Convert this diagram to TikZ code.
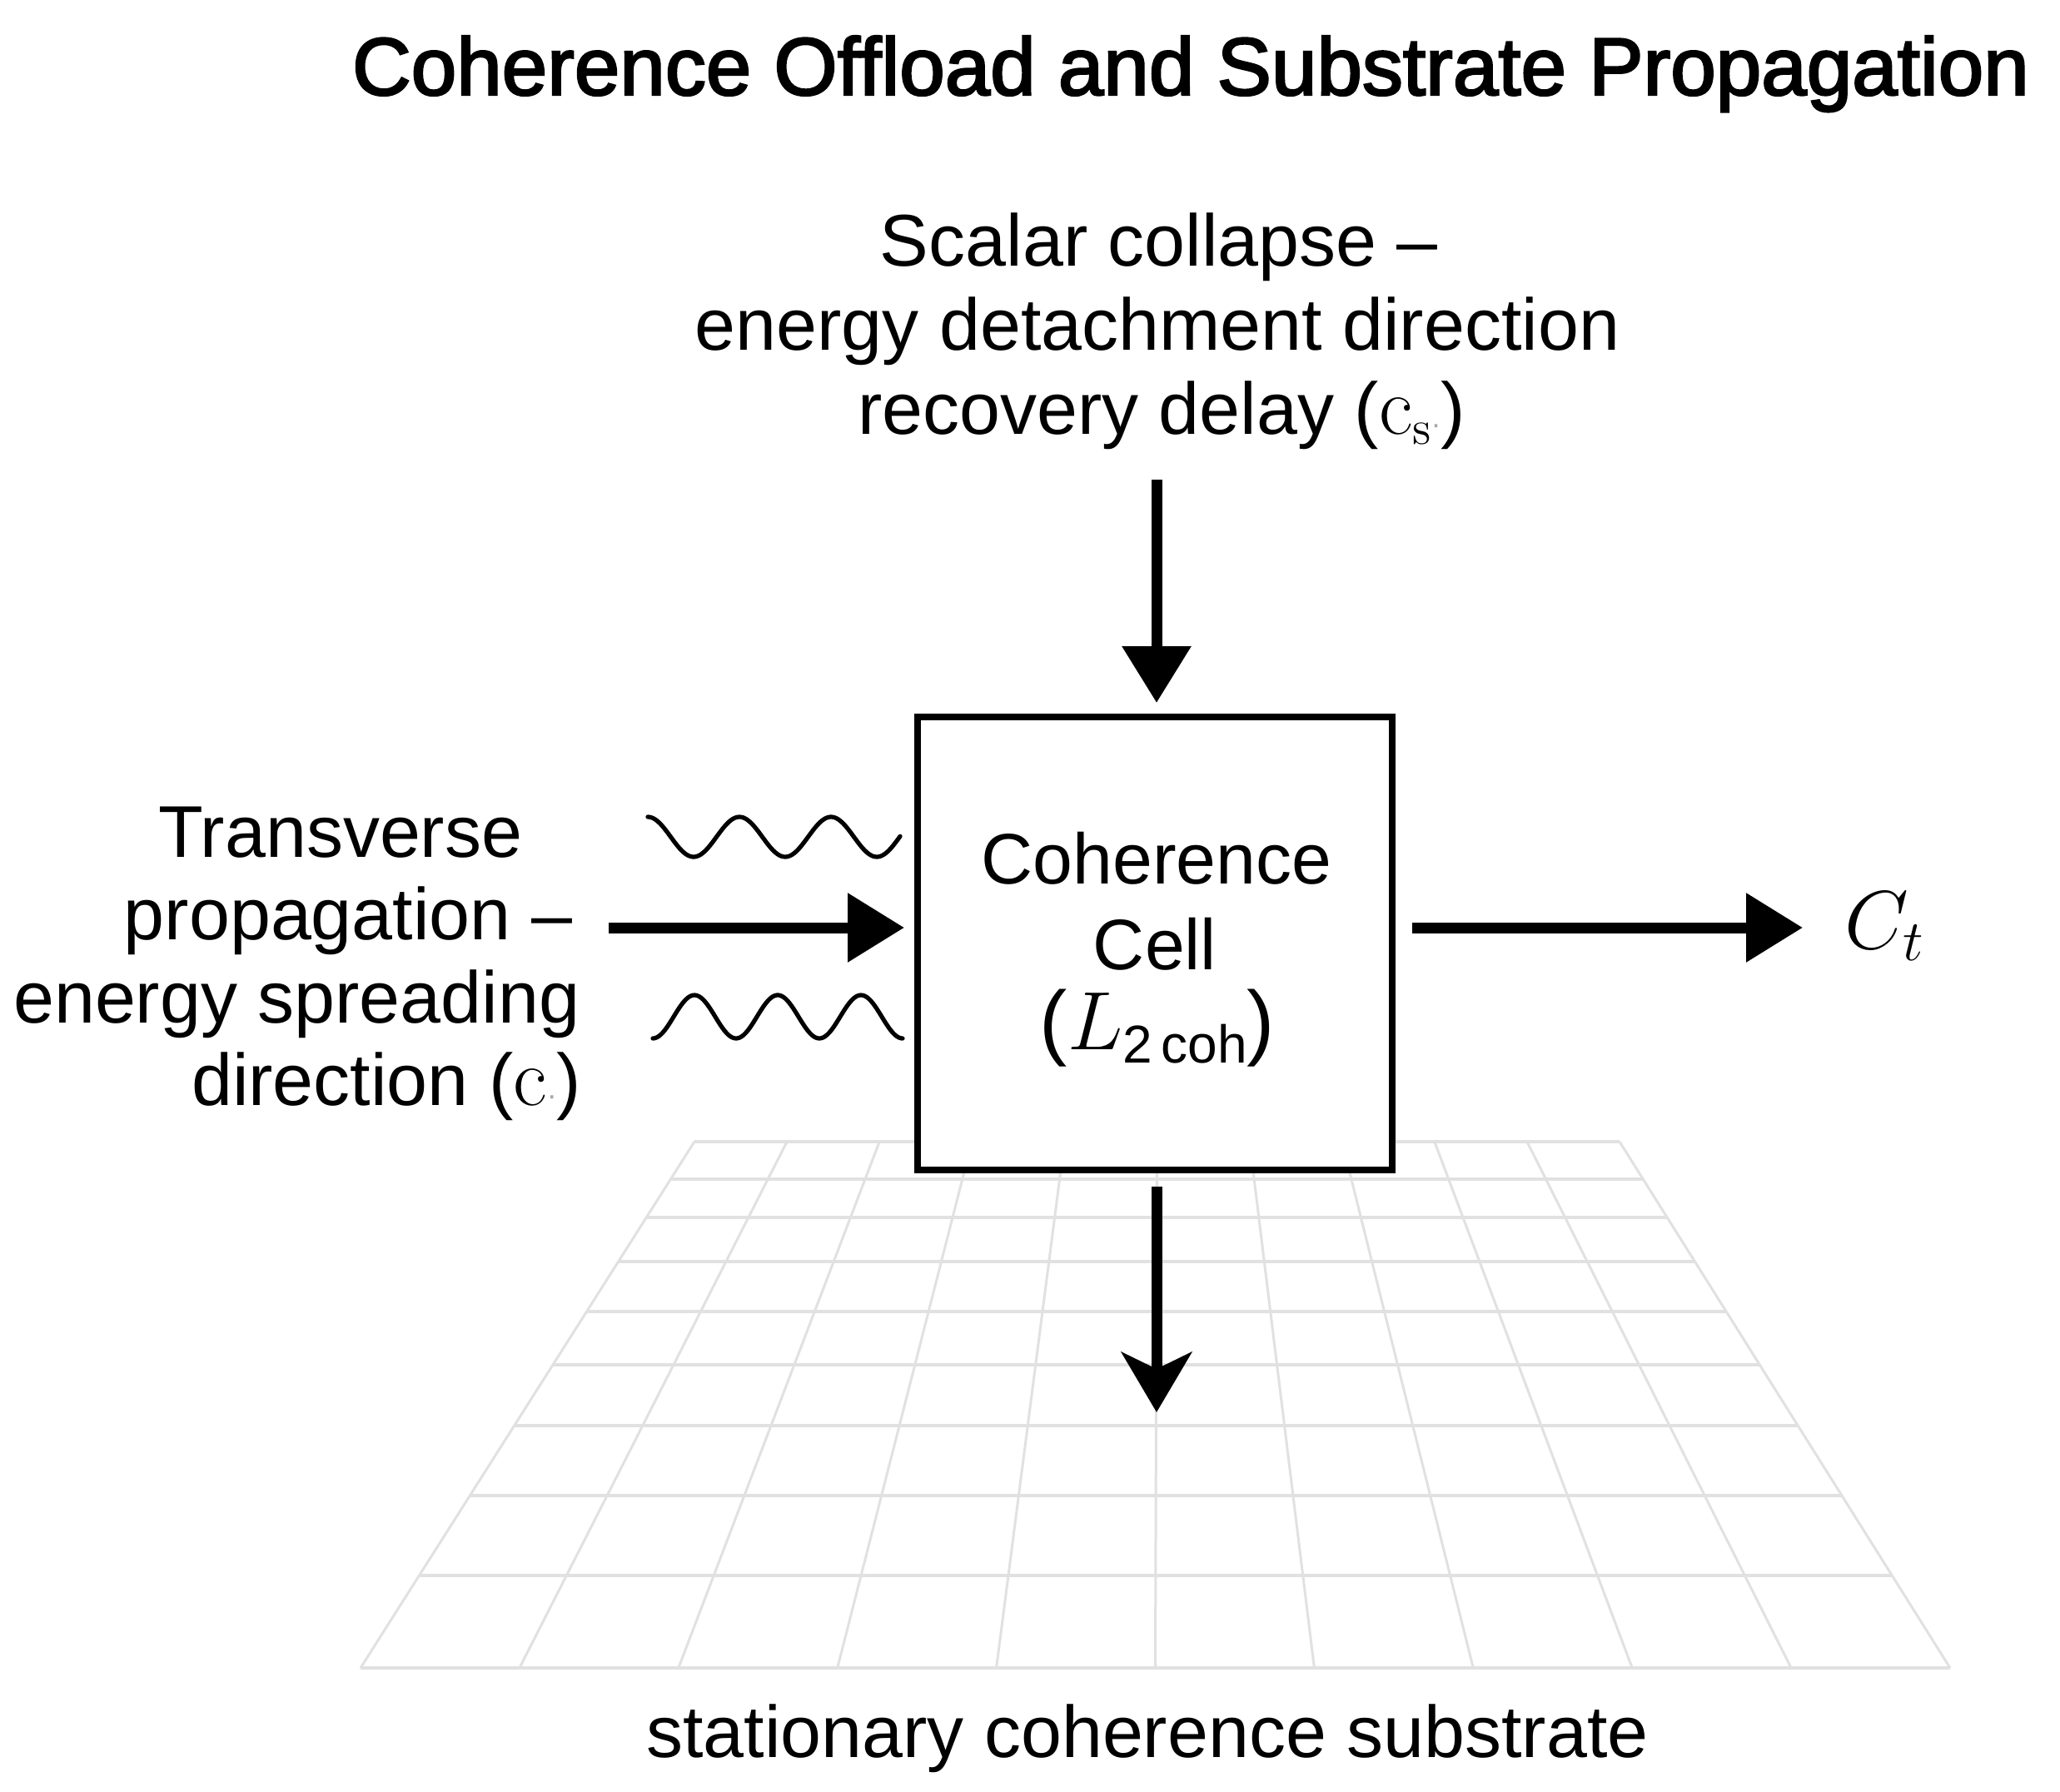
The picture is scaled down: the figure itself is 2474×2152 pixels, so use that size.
\documentclass[tikz,border=0pt]{standalone}
\usepackage[no-math]{fontspec}
\setmainfont{Liberation Sans}
\newfontfamily\titlefont[FakeBold=2.5]{Liberation Sans}
\usetikzlibrary{arrows.meta}
\definecolor{gridgray}{HTML}{E1E1E1}
\newcommand{\gdot}{{\fontsize{9}{9}\selectfont\textcolor{gray!70}{·}}}
\newcommand{\bigc}{{\fontsize{27}{27}\selectfont$\mathrm{c}$}}
\tikzset{
  lbl/.style={font=\fontsize{22}{26}\selectfont, inner sep=0pt},
  celltext/.style={font=\fontsize{21.5}{26}\selectfont, inner sep=0pt},
  arr/.style={line width=3.25pt, -{Triangle[width=20pt,length=17pt]}},
  arrd/.style={line width=3.25pt, -{Stealth[width=21pt,length=18pt,inset=5pt]}},
  wave/.style={line width=1.3pt, line cap=round},
  cellbox/.style={draw, line width=2pt, fill=white, minimum width=142.5pt, minimum height=136pt, inner sep=0pt},
  hgrid/.style={gridgray, line width=1.2pt},
  vgrid/.style={gridgray, line width=0.75pt},
}
\begin{document}
\begin{tikzpicture}[x=0.25pt,y=-0.25pt]
\useasboundingbox (0,0) rectangle (2474,2152);
\fill[white] (0,0) rectangle (2474,2152);

% substrate grid
\foreach \yy in {1371,1416,1462,1515,1575,1639,1712,1796,1892,2003}{
  \pgfmathsetmacro{\tt}{(\yy-1371)/632}
  \pgfmathsetmacro{\xl}{834-401*\tt}
  \pgfmathsetmacro{\xr}{1945+397*\tt}
  \draw[hgrid] (\xl,\yy) -- (\xr,\yy);
}
\foreach \i in {0,...,10}{
  \draw[vgrid] ({834+111.1*\i},1371) -- ({433+190.9*\i},2003);
}

% title
\node[anchor=base, inner sep=0pt, font=\titlefont\fontsize{24.5}{29}\selectfont] (title) at (1430,114) {Coherence Offload and Substrate Propagation};

% top label
\node[lbl, anchor=base] (top1) at (1392,319) {Scalar collapse –};
\node[lbl, anchor=base] (top2) at (1390,420) {energy detachment direction};
\node[lbl, anchor=base] (top3) at (1395,521) {recovery delay (\bigc\raisebox{-3pt}{\fontsize{15}{15}\selectfont$\mathrm{s}$}\gdot)};

% left label
\node[lbl, anchor=base east] (l1) at (628,1029) {Transverse};
\node[lbl, anchor=base east] (l2) at (688,1128) {propagation –};
\node[lbl, anchor=base east] (l3) at (697,1228) {energy spreading};
\node[lbl, anchor=base east] (l4) at (699,1327) {direction (\bigc\gdot)};

% cell
\node[cellbox] (cell) at (1387,1133) {};
\node[celltext, anchor=base] (c1) at (1389,1061) {Coherence};
\node[celltext, anchor=base] (c2) at (1387,1164) {Cell};
\node[celltext, anchor=base] (c3) at (1390,1260) {{\fontsize{25}{25}\selectfont(}{\fontsize{25}{25}\selectfont$L$}\raisebox{-4pt}{\fontsize{16}{16}\selectfont 2\,coh}{\fontsize{25}{25}\selectfont)}};

% output label
\node[anchor=base west, inner sep=0pt, font=\fontsize{25}{28}\selectfont] (ct) at (2215,1139) {$C_t$};

% waves
\draw[wave] plot[domain=0:303, samples=120, smooth] ({778+\x}, {1005-24*cos(3.2727*\x)});
\draw[wave] plot[domain=0:300, samples=120, smooth] ({784+\x}, {1221+26*cos(3.6*\x)});

% arrows
\coordinate (tsrc) at (1389,576);
\coordinate (lsrc) at (731,1114);
\coordinate (rtip) at (2165,1114);
\coordinate (dtip) at (1389,1696);
\draw[arr, shorten >=3.25pt] (tsrc) -- (tsrc |- cell.north);
\draw[arr, shorten >=3pt] (lsrc) -- (lsrc -| cell.west);
\draw[arr, shorten <=5pt] (rtip -| cell.east) -- (rtip);
\draw[arrd, shorten <=4pt] (dtip |- cell.south) -- (dtip);

% bottom label
\node[lbl, anchor=base] (sub) at (1378,2110) {stationary coherence substrate};
\end{tikzpicture}
\end{document}
